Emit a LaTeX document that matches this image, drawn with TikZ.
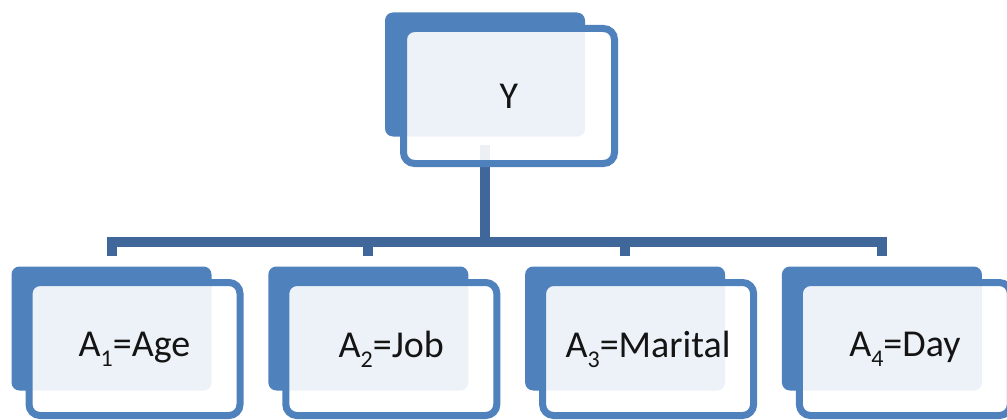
\documentclass[tikz,border=0pt]{standalone}
\usepackage{fontspec}
\setmainfont{Carlito}
\usetikzlibrary{positioning}
\definecolor{boxblue}{RGB}{79,129,189}
\definecolor{connblue}{RGB}{64,103,153}
\definecolor{txt}{RGB}{20,20,20}
\pgfdeclarelayer{bg}
\pgfsetlayers{bg,main}
\newcommand\sbs[1]{\raisebox{-0.26em}{\fontsize{24}{24}\selectfont #1}}
\tikzset{
  backbox/.style={rectangle, rounded corners=8pt, fill=boxblue, draw=none,
    minimum width=200pt, minimum height=124pt, inner sep=0pt},
  frontbox/.style={rectangle, rounded corners=11pt, draw=boxblue, line width=7pt,
    fill=white, fill opacity=0.9, draw opacity=1, text opacity=1,
    minimum width=211pt, minimum height=133pt, inner sep=0pt,
    font=\fontsize{38}{40}\selectfont, text=txt},
  conn/.style={draw=connblue, line width=10pt, line join=miter}
}
\begin{document}
\begin{tikzpicture}[x=1pt,y=-1pt]
\useasboundingbox (0,0) rectangle (1007,420);
% back boxes
\node[backbox] (yb) at (485,74.5) {};
\node[backbox] (b1) at (111.5,328.5) {};
\node[backbox] (b2) at (368.3,328.5) {};
\node[backbox] (b3) at (625.1,328.5) {};
\node[backbox] (b4) at (881.9,328.5) {};
% front boxes
\node[frontbox, minimum height=135pt] (y) at (509,96) {Y};
\node[frontbox] (a1) at (134.5,349) {A\sbs{1}=Age};
\node[frontbox] (a2) at (391.3,349) {A\sbs{2}=Job};
\node[frontbox] (a3) at (648.1,349) {A\sbs{3}=Marital};
\node[frontbox] (a4) at (904.9,349) {A\sbs{4}=Day};
% connectors
\coordinate (bus) at ([yshift=24pt]b1.north);
\begin{pgfonlayer}{bg}
\draw[conn] ([yshift=-8pt]yb.south) -- (yb.south |- bus);
\draw[conn] ([yshift=10pt]b1.north) -- (bus) -- (b4.north |- bus) -- ([yshift=10pt]b4.north);
\draw[conn] ([yshift=10pt]b2.north) -- (b2.north |- bus);
\draw[conn] ([yshift=10pt]b3.north) -- (b3.north |- bus);
\end{pgfonlayer}
\end{tikzpicture}
\end{document}
